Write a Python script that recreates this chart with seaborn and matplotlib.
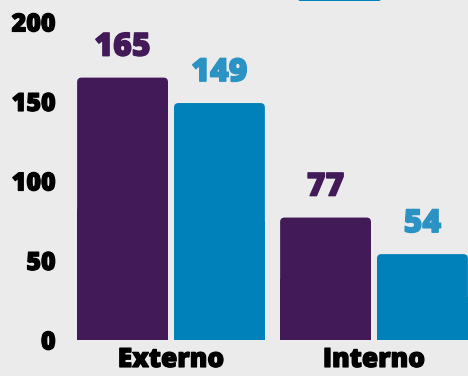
import pandas as pd
import matplotlib
matplotlib.use("Agg")
import matplotlib.pyplot as plt
import matplotlib.patheffects as pe
import seaborn as sns
from matplotlib.patches import FancyBboxPatch

# datos
categorias = ["Externo", "Interno"]
series = ["Serie A", "Serie B"]
valores_a = [165, 77]
valores_b = [149, 54]

colores_barras = ["#431a58", "#0081b9"]
colores_texto = ["#431a58", "#2b92c4"]
fondo = "#ebebeb"

df = pd.DataFrame({
    "categoria": categorias * 2,
    "serie": [series[0]] * 2 + [series[1]] * 2,
    "valor": valores_a + valores_b,
})

sns.set_theme(style="white")
plt.rcParams["font.family"] = ["Open Sans", "DejaVu Sans"]

Y_MAX = 213.8
AX_W_PX, AX_H_PX = 406, 340

fig = plt.figure(figsize=(4.68, 3.76), dpi=100, facecolor=fondo)
ax = fig.add_axes([69.5 / 468, 36 / 376, AX_W_PX / 468, AX_H_PX / 376])
ax.set_facecolor(fondo)

sns.barplot(data=df, x="categoria", y="valor", hue="serie", palette=colores_barras,
            saturation=1, width=0.925, ax=ax, legend=False, errorbar=None)

ax.set_ylim(0, Y_MAX)
ax.set_xlim(-0.5, 1.5)
ax.set_yticks([0, 50, 100, 150, 200])
ax.set_xlabel("")
ax.set_ylabel("")
for s in ax.spines.values():
    s.set_visible(False)
ax.tick_params(axis="y", length=0, pad=10, labelsize=18)
ax.tick_params(axis="x", length=0, pad=5, labelsize=19)
grueso = [pe.withStroke(linewidth=0.9, foreground="black")]
for t in ax.get_yticklabels() + ax.get_xticklabels():
    t.set_fontweight("heavy")
    t.set_color("black")
    t.set_path_effects(grueso)

# barras con esquinas redondeadas y un hueco entre ellas
aspecto = (Y_MAX / AX_H_PX) / (2 / AX_W_PX)
medio_hueco = 3 / 203
patches = list(ax.patches)
for i, p in enumerate(patches):
    x, w, h = p.get_x(), p.get_width(), p.get_height()
    fc = p.get_facecolor()
    serie_idx = i // len(categorias)
    p.remove()
    x0 = x if serie_idx == 0 else x + medio_hueco
    ancho = w - medio_hueco
    ax.add_patch(FancyBboxPatch((x0, 0), ancho, h,
                                boxstyle="round,pad=0,rounding_size=0.022",
                                mutation_aspect=aspecto,
                                facecolor=fc, edgecolor="none"))
    ax.add_patch(FancyBboxPatch((x0, 0), ancho, h * 0.5,
                                boxstyle="square,pad=0", facecolor=fc, edgecolor="none"))
    ax.annotate(f"{int(round(h))}", (x0 + ancho / 2, h), xytext=(0, 10), textcoords="offset points",
                ha="center", va="bottom", fontsize=23, fontweight="heavy",
                color=colores_texto[serie_idx],
                path_effects=[pe.withStroke(linewidth=1.0, foreground=colores_texto[serie_idx])])

# trozo de leyenda recortado arriba
fig.patches.append(FancyBboxPatch((298 / 468, 375 / 376), 83 / 468, 0.02,
                                  boxstyle="round,pad=0,rounding_size=0.005",
                                  transform=fig.transFigure, facecolor="#0081b9",
                                  edgecolor="none", figure=fig))

fig.savefig("out.png", dpi=100, facecolor=fondo)
